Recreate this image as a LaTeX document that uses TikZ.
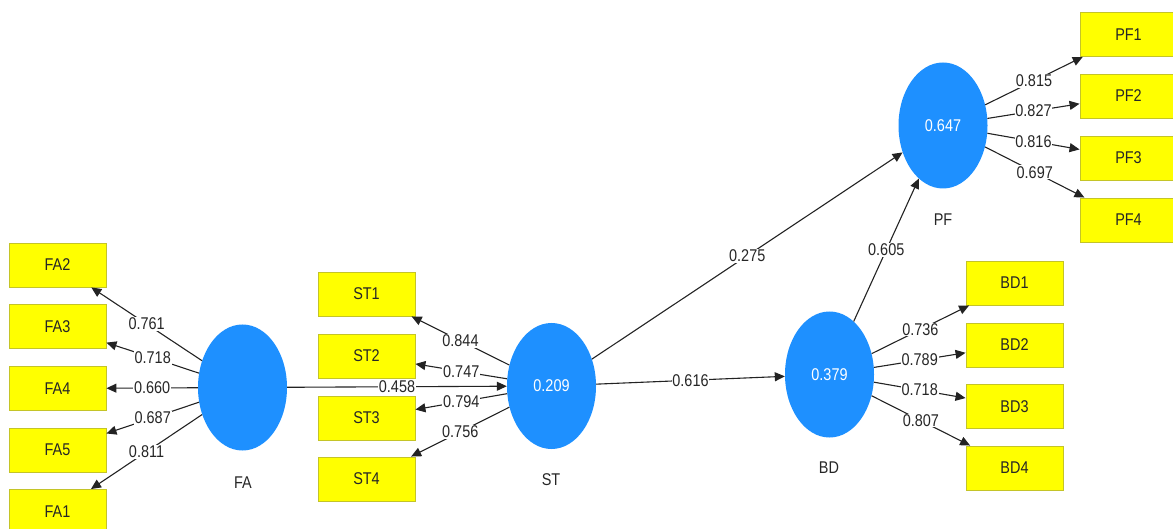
\documentclass[tikz,border=0pt]{standalone}
\usepackage{fontspec}
\setmainfont[FakeStretch=0.85]{Liberation Sans}
\usetikzlibrary{shapes.geometric,arrows.meta}

\definecolor{latentblue}{RGB}{30,144,255}
\definecolor{itemyellow}{RGB}{255,255,0}
\definecolor{itemedge}{RGB}{196,196,40}
\definecolor{pathgrey}{RGB}{35,35,35}

\tikzset{
  latent/.style={ellipse, fill=latentblue, draw=none, minimum width=89pt,
    minimum height=126pt, inner sep=0pt, text=white},
  indicator/.style={rectangle, fill=itemyellow, draw=itemedge, line width=0.9pt,
    minimum width=97pt, minimum height=44pt, inner sep=0pt, text=black!85},
  caption/.style={text=black!85},
  link/.style={draw=pathgrey, line width=1.1pt, -{Triangle[length=10pt,width=9pt]}},
  coef/.style={fill=white, inner sep=0.8pt, text=black!85, midway}
}

\begin{document}
\begin{tikzpicture}[x=1pt, y=-1pt, font=\fontsize{17}{20}\selectfont]
  \useasboundingbox (0,0) rectangle (1173,529);
  \clip (0,0) rectangle (1173,529);

  % latent constructs
  \node[latent] (FA) at (242.5,387.5) {};
  \node[latent] (ST) at (551.5,386) {0.209};
  \node[latent] (BD) at (829.5,374.5) {0.379};
  \node[latent] (PF) at (943,125.5) {0.647};

  \node[caption] (FAcap) at (243,483) {FA};
  \node[caption] (STcap) at (551,480) {ST};
  \node[caption] (BDcap) at (829,468) {BD};
  \node[caption] (PFcap) at (943,220) {PF};

  % indicators of FA
  \node[indicator] (FA2) at (57.5,265)   {FA2};
  \node[indicator] (FA3) at (57.5,326.5) {FA3};
  \node[indicator] (FA4) at (57.5,388.5) {FA4};
  \node[indicator] (FA5) at (57.5,450)   {FA5};
  \node[indicator] (FA1) at (57.5,511.5) {FA1};

  % indicators of ST
  \node[indicator] (ST1) at (366.5,294) {ST1};
  \node[indicator] (ST2) at (366.5,356) {ST2};
  \node[indicator] (ST3) at (366.5,418) {ST3};
  \node[indicator] (ST4) at (366.5,479) {ST4};

  % indicators of BD
  \node[indicator] (BD1) at (1014.5,283)   {BD1};
  \node[indicator] (BD2) at (1014.5,345)   {BD2};
  \node[indicator] (BD3) at (1014.5,406.5) {BD3};
  \node[indicator] (BD4) at (1014.5,468)   {BD4};

  % indicators of PF
  \node[indicator] (PF1) at (1128.5,34.5) {PF1};
  \node[indicator] (PF2) at (1128.5,96)   {PF2};
  \node[indicator] (PF3) at (1128.5,158)  {PF3};
  \node[indicator] (PF4) at (1128.5,220)  {PF4};

  % outer loadings
  \draw[link] (FA) -- node[coef] {0.761} (FA2);
  \draw[link] (FA) -- node[coef] {0.718} (FA3);
  \draw[link] (FA) -- node[coef] {0.660} (FA4);
  \draw[link] (FA) -- node[coef] {0.687} (FA5);
  \draw[link] (FA) -- node[coef] {0.811} (FA1);

  \draw[link] (ST) -- node[coef] {0.844} (ST1);
  \draw[link] (ST) -- node[coef] {0.747} (ST2);
  \draw[link] (ST) -- node[coef] {0.794} (ST3);
  \draw[link] (ST) -- node[coef] {0.756} (ST4);

  \draw[link] (BD) -- node[coef] {0.736} (BD1);
  \draw[link] (BD) -- node[coef] {0.789} (BD2);
  \draw[link] (BD) -- node[coef] {0.718} (BD3);
  \draw[link] (BD) -- node[coef] {0.807} (BD4);

  \draw[link] (PF) -- node[coef] {0.815} (PF1);
  \draw[link] (PF) -- node[coef] {0.827} (PF2);
  \draw[link] (PF) -- node[coef] {0.816} (PF3);
  \draw[link] (PF) -- node[coef] {0.697} (PF4);

  % structural paths
  \draw[link] (FA) -- node[coef] {0.458} (ST);
  \draw[link] (ST) -- node[coef] {0.616} (BD);
  \draw[link] (ST) -- node[coef] {0.275} (PF);
  \draw[link] (BD) -- node[coef] {0.605} (PF);
\end{tikzpicture}
\end{document}
